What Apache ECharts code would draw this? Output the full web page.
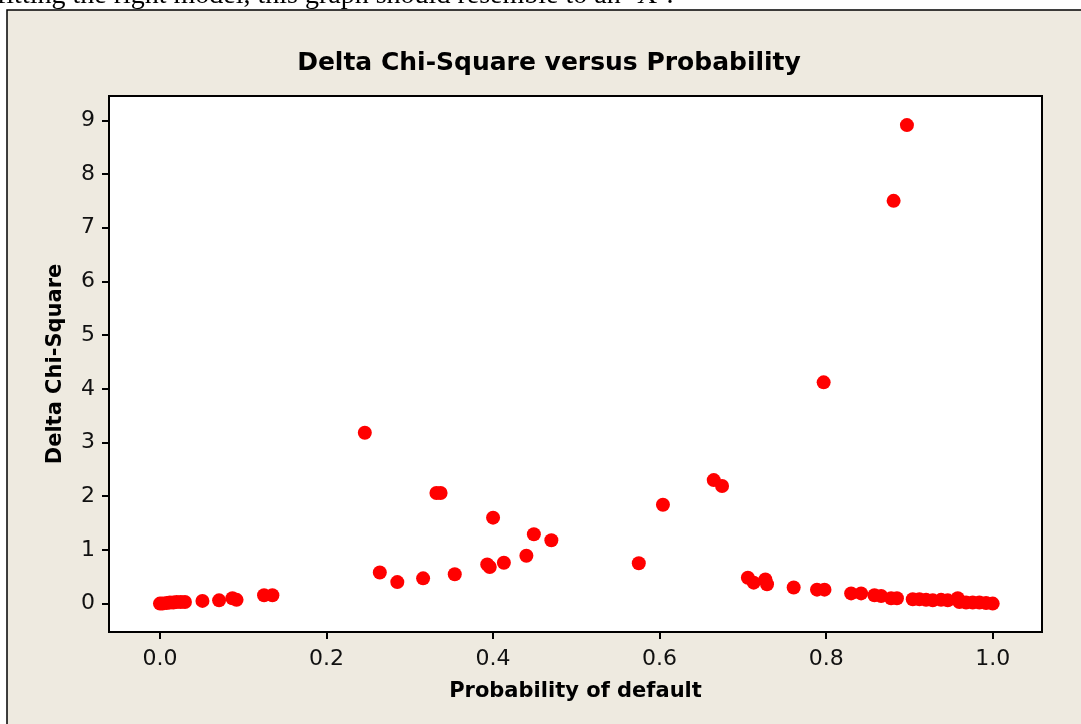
<!DOCTYPE html>
<html>
<head>
<meta charset="utf-8">
<script src="https://cdn.jsdelivr.net/npm/echarts@6/dist/echarts.min.js"></script>
<style>
html,body{margin:0;padding:0;background:#fff;}
#chart{width:1081px;height:724px;}
</style>
</head>
<body>
<div id="chart"></div>
<script>
// Probability of default (x) and Delta Chi-Square (y)
const probability = [
  0.000, 0.003, 0.008, 0.012, 0.016, 0.020, 0.025, 0.030,
  0.051, 0.071, 0.087, 0.092, 0.125, 0.135,
  0.246, 0.264, 0.285, 0.316, 0.332, 0.337, 0.354, 0.393, 0.396,
  0.400, 0.413, 0.440, 0.449, 0.470,
  0.575, 0.604, 0.665, 0.675,
  0.706, 0.713, 0.727, 0.729, 0.761,
  0.789, 0.797, 0.798, 0.830, 0.842, 0.858, 0.866, 0.878, 0.881, 0.885, 0.897,
  0.904, 0.912, 0.920, 0.928, 0.938, 0.946, 0.958, 0.960, 0.968, 0.976, 0.984, 0.992, 1.000
];
const deltaChiSquare = [
  0.00, 0.00, 0.01, 0.02, 0.02, 0.03, 0.03, 0.03,
  0.05, 0.06, 0.10, 0.07, 0.155, 0.155,
  3.18, 0.58, 0.40, 0.47, 2.06, 2.06, 0.545, 0.73, 0.68,
  1.60, 0.76, 0.89, 1.29, 1.18,
  0.75, 1.84, 2.30, 2.19,
  0.48, 0.39, 0.45, 0.36, 0.30,
  0.26, 4.12, 0.26, 0.19, 0.19, 0.155, 0.14, 0.10, 7.50, 0.10, 8.91,
  0.08, 0.08, 0.07, 0.06, 0.07, 0.06, 0.10, 0.03, 0.02, 0.02, 0.02, 0.01, 0.00
];
const xTicks = [0.0, 0.2, 0.4, 0.6, 0.8, 1.0];
const yTicks = [0, 1, 2, 3, 4, 5, 6, 7, 8, 9];

const points = probability.map((p, i) => [p, deltaChiSquare[i]]);

const chart = echarts.init(document.getElementById('chart'));
chart.setOption({
  animation: false,
  backgroundColor: '#ffffff',
  graphic: [
    {
      type: 'rect', z: -10, silent: true,
      shape: { x: 7, y: 10, width: 1080, height: 720 },
      style: { fill: '#EEEAE0', stroke: '#000', lineWidth: 1.5 }
    },
    {
      type: 'text', z: -9, silent: true,
      left: -3, top: -18,
      style: {
        text: "fitting the right model, this graph should resemble to an \u2018X\u2019.",
        font: '28px "Liberation Serif"', fill: '#000'
      }
    }
  ],
  title: {
    text: 'Delta Chi-Square versus Probability',
    left: 544, top: 46, textAlign: 'center',
    textStyle: { fontFamily: 'DejaVu Sans', fontWeight: 'bold', fontSize: 25, color: '#000' }
  },
  grid: {
    left: 109, top: 96, right: 39, bottom: 92,
    show: true, backgroundColor: '#ffffff', borderColor: '#000', borderWidth: 2
  },
  xAxis: {
    type: 'value', min: -0.0612, max: 1.0592,
    name: 'Probability of default', nameLocation: 'middle', nameGap: 49,
    nameTextStyle: { fontFamily: 'DejaVu Sans', fontWeight: 'bold', fontSize: 21, color: '#000' },
    axisLine: { show: true, onZero: false, lineStyle: { color: '#000', width: 2 } },
    axisTick: { show: true, customValues: xTicks, length: 7, lineStyle: { color: '#000', width: 2 } },
    axisLabel: { customValues: xTicks, margin: 16, formatter: v => v.toFixed(1),
      fontFamily: 'DejaVu Sans', fontSize: 22, color: '#111' },
    splitLine: { show: false }
  },
  yAxis: {
    type: 'value', min: -0.529, max: 9.452,
    name: 'Delta Chi-Square', nameLocation: 'middle', nameGap: 43, nameRotate: 90,
    nameTextStyle: { fontFamily: 'DejaVu Sans', fontWeight: 'bold', fontSize: 21, color: '#000' },
    axisLine: { show: true, onZero: false, lineStyle: { color: '#000', width: 2 } },
    axisTick: { show: true, customValues: yTicks, length: 7, lineStyle: { color: '#000', width: 2 } },
    axisLabel: { customValues: yTicks, margin: 14, formatter: v => String(v),
      fontFamily: 'DejaVu Sans', fontSize: 22, color: '#111' },
    splitLine: { show: false }
  },
  series: [{
    type: 'scatter',
    data: points,
    symbol: 'circle',
    symbolSize: 14,
    itemStyle: { color: '#FF0000', opacity: 1 }
  }]
});
</script>
</body>
</html>
